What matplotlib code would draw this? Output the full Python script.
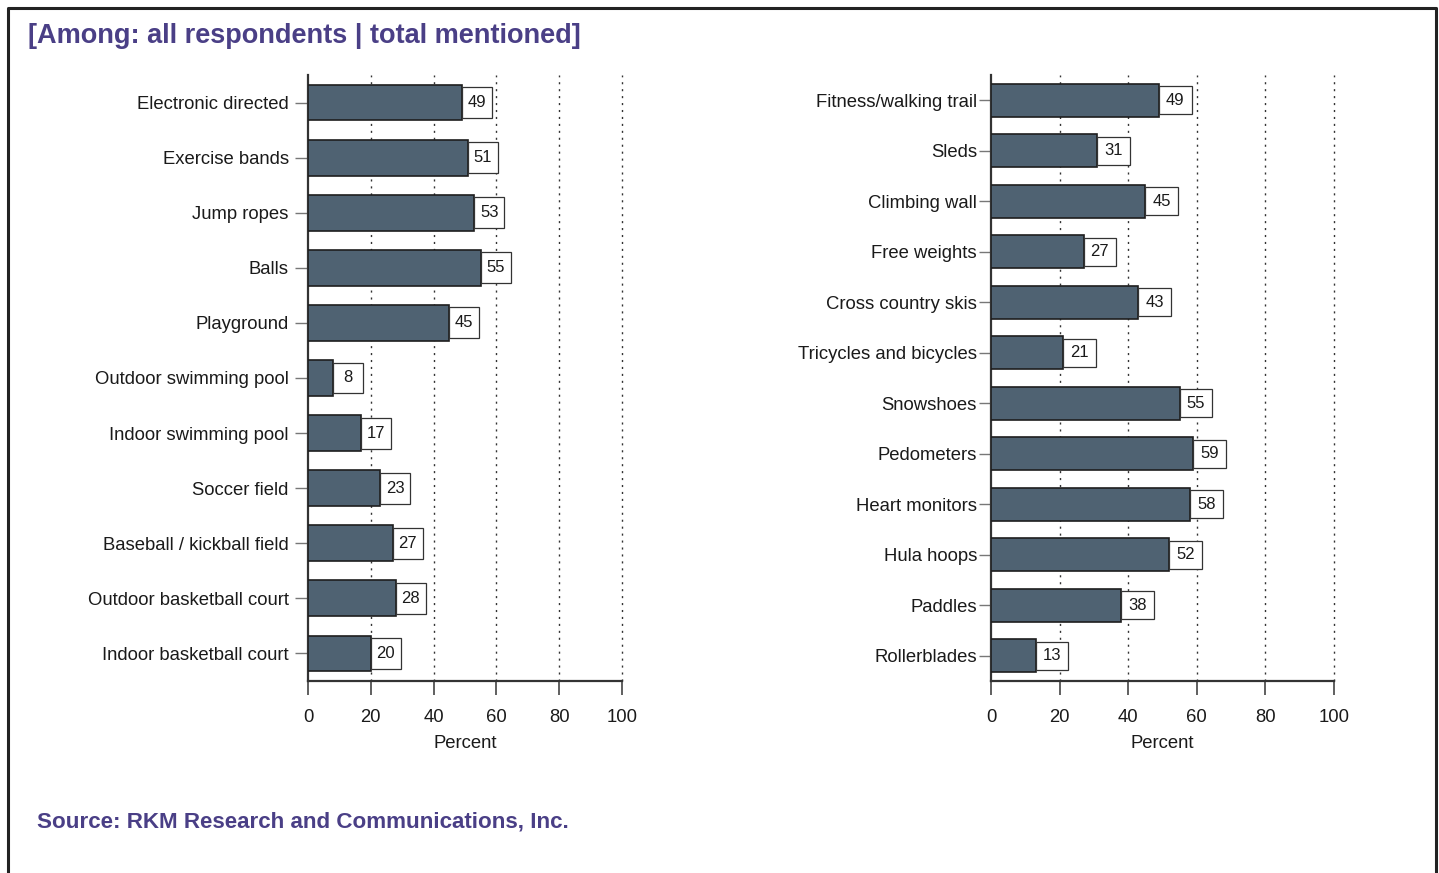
import numpy as np
import matplotlib.pyplot as plt
from matplotlib.patches import Rectangle

plt.rcParams['font.family'] = ['Liberation Sans', 'DejaVu Sans']

left_items = ['Electronic directed', 'Exercise bands', 'Jump ropes', 'Balls', 'Playground',
              'Outdoor swimming pool', 'Indoor swimming pool', 'Soccer field',
              'Baseball / kickball field', 'Outdoor basketball court', 'Indoor basketball court']
left_pct = [49, 51, 53, 55, 45, 8, 17, 23, 27, 28, 20]

right_items = ['Fitness/walking trail', 'Sleds', 'Climbing wall', 'Free weights',
               'Cross country skis', 'Tricycles and bicycles', 'Snowshoes', 'Pedometers',
               'Heart monitors', 'Hula hoops', 'Paddles', 'Rollerblades']
right_pct = [49, 31, 45, 27, 43, 21, 55, 59, 58, 52, 38, 13]

xticks = [0, 20, 40, 60, 80, 100]
bar_color = '#4f6272'
purple = '#4a3f86'

fig = plt.figure(figsize=(14.39, 8.73), dpi=100)

# outer frame (open at the bottom)
fig.add_artist(plt.Line2D([8 / 1439, 8 / 1439, 1436 / 1439, 1436 / 1439],
                          [0, 1 - 8 / 873, 1 - 8 / 873, 0],
                          transform=fig.transFigure, color='#222222', lw=2.2))

fig.text(28 / 1439, 1 - 36 / 873, '[Among: all respondents | total mentioned]',
         color=purple, fontsize=19.5, fontweight='bold', va='center', ha='left')
fig.text(37 / 1439, 1 - 822 / 873, 'Source: RKM Research and Communications, Inc.',
         color=purple, fontsize=16.1, fontweight='bold', va='center', ha='left')


def draw_panel(rect, items, vals, tick_len, label_pad):
    ax = fig.add_axes(rect)
    n = len(items)
    y = np.arange(n)
    ax.barh(y, vals, height=0.65, color=bar_color, edgecolor='#1e1e1e', linewidth=1.2, zorder=3)
    ax.set_xlim(0, 100)
    ax.set_ylim(n - 0.5, -0.5)
    ax.set_yticks(y)
    ax.set_yticklabels(items, fontsize=13.3, color='#1a1a1a')
    ax.set_xticks(xticks)
    ax.set_xticklabels([str(t) for t in xticks], fontsize=13.3, color='#1a1a1a')
    ax.tick_params(axis='y', length=tick_len, width=1, color='#777777', pad=label_pad)
    ax.tick_params(axis='x', length=10, width=1.2, color='#444444', pad=10)
    for s in ['top', 'right']:
        ax.spines[s].set_visible(False)
    for s in ['left', 'bottom']:
        ax.spines[s].set_linewidth(1.6)
        ax.spines[s].set_color('#333333')
    for t in xticks[1:]:
        ax.axvline(t, color='#333333', lw=1, ls=(0, (1.5, 3.5)), zorder=1, clip_on=False)
    ax.set_xlabel('Percent', fontsize=13.3, color='#1a1a1a', labelpad=7)
    # value boxes attached to the end of each bar
    for yi, v in zip(y, vals):
        ax.add_patch(Rectangle((v, yi - 0.28), 9.5, 0.56, facecolor='white',
                               edgecolor='#333333', linewidth=0.9, zorder=4))
        ax.text(v + 4.75, yi, str(v), ha='center', va='center', fontsize=12,
                color='#1a1a1a', zorder=5)
    return ax


draw_panel([308 / 1439, 1 - 681 / 873, 314 / 1439, 606 / 873], left_items, left_pct, 9.5, 4.3)
draw_panel([991 / 1439, 1 - 681 / 873, 343 / 1439, 606 / 873], right_items, right_pct, 8.6, 1.5)

fig.savefig('out.png', dpi=100)
